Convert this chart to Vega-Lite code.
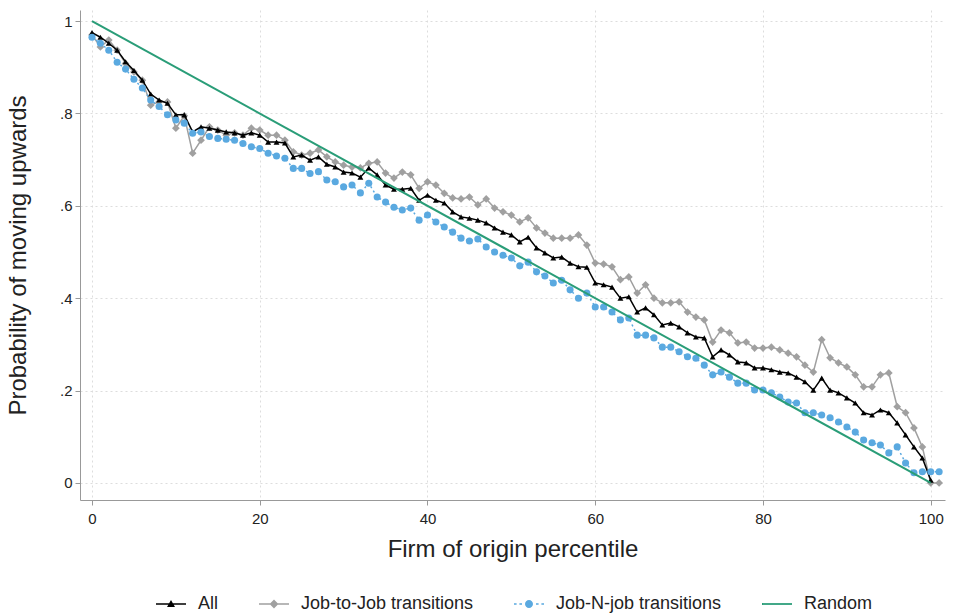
{
  "$schema": "https://vega.github.io/schema/vega-lite/v6.json",
  "autosize": {"type": "none"},
  "padding": {"left": 80, "top": 10, "right": 8, "bottom": 116},
  "width": 865,
  "height": 490,
  "background": "white",
  "config": {
    "view": {"stroke": null},
    "font": "Liberation Sans",
    "axis": {
      "domainColor": "#999999",
      "tickColor": "#999999",
      "tickSize": 5,
      "labelColor": "#222222",
      "labelFontSize": 15,
      "titleColor": "#222222",
      "titleFontSize": 24,
      "titleFontWeight": "normal",
      "gridColor": "#dddddd",
      "gridDash": [2, 3],
      "gridWidth": 1
    }
  },
  "datasets": {
    "d": [
      {"p":0,"v":0.975,"s":"All"},{"p":1,"v":0.965,"s":"All"},{"p":2,"v":0.952,"s":"All"},{"p":3,"v":0.937,"s":"All"},{"p":4,"v":0.912,"s":"All"},{"p":5,"v":0.893,"s":"All"},{"p":6,"v":0.872,"s":"All"},{"p":7,"v":0.842,"s":"All"},{"p":8,"v":0.829,"s":"All"},{"p":9,"v":0.822,"s":"All"},
      {"p":10,"v":0.797,"s":"All"},{"p":11,"v":0.797,"s":"All"},{"p":12,"v":0.760,"s":"All"},{"p":13,"v":0.771,"s":"All"},{"p":14,"v":0.768,"s":"All"},{"p":15,"v":0.764,"s":"All"},{"p":16,"v":0.760,"s":"All"},{"p":17,"v":0.758,"s":"All"},{"p":18,"v":0.753,"s":"All"},{"p":19,"v":0.758,"s":"All"},
      {"p":20,"v":0.753,"s":"All"},{"p":21,"v":0.738,"s":"All"},{"p":22,"v":0.738,"s":"All"},{"p":23,"v":0.736,"s":"All"},{"p":24,"v":0.706,"s":"All"},{"p":25,"v":0.710,"s":"All"},{"p":26,"v":0.699,"s":"All"},{"p":27,"v":0.706,"s":"All"},{"p":28,"v":0.690,"s":"All"},{"p":29,"v":0.684,"s":"All"},
      {"p":30,"v":0.673,"s":"All"},{"p":31,"v":0.671,"s":"All"},{"p":32,"v":0.662,"s":"All"},{"p":33,"v":0.682,"s":"All"},{"p":34,"v":0.667,"s":"All"},{"p":35,"v":0.645,"s":"All"},{"p":36,"v":0.636,"s":"All"},{"p":37,"v":0.636,"s":"All"},{"p":38,"v":0.638,"s":"All"},{"p":39,"v":0.612,"s":"All"},
      {"p":40,"v":0.623,"s":"All"},{"p":41,"v":0.612,"s":"All"},{"p":42,"v":0.606,"s":"All"},{"p":43,"v":0.587,"s":"All"},{"p":44,"v":0.576,"s":"All"},{"p":45,"v":0.573,"s":"All"},{"p":46,"v":0.569,"s":"All"},{"p":47,"v":0.563,"s":"All"},{"p":48,"v":0.552,"s":"All"},{"p":49,"v":0.543,"s":"All"},
      {"p":50,"v":0.537,"s":"All"},{"p":51,"v":0.522,"s":"All"},{"p":52,"v":0.532,"s":"All"},{"p":53,"v":0.509,"s":"All"},{"p":54,"v":0.498,"s":"All"},{"p":55,"v":0.487,"s":"All"},{"p":56,"v":0.489,"s":"All"},{"p":57,"v":0.476,"s":"All"},{"p":58,"v":0.468,"s":"All"},{"p":59,"v":0.467,"s":"All"},
      {"p":60,"v":0.433,"s":"All"},{"p":61,"v":0.429,"s":"All"},{"p":62,"v":0.424,"s":"All"},{"p":63,"v":0.400,"s":"All"},{"p":64,"v":0.403,"s":"All"},{"p":65,"v":0.370,"s":"All"},{"p":66,"v":0.379,"s":"All"},{"p":67,"v":0.364,"s":"All"},{"p":68,"v":0.342,"s":"All"},{"p":69,"v":0.346,"s":"All"},
      {"p":70,"v":0.338,"s":"All"},{"p":71,"v":0.325,"s":"All"},{"p":72,"v":0.316,"s":"All"},{"p":73,"v":0.314,"s":"All"},{"p":74,"v":0.273,"s":"All"},{"p":75,"v":0.288,"s":"All"},{"p":76,"v":0.277,"s":"All"},{"p":77,"v":0.262,"s":"All"},{"p":78,"v":0.260,"s":"All"},{"p":79,"v":0.249,"s":"All"},
      {"p":80,"v":0.249,"s":"All"},{"p":81,"v":0.245,"s":"All"},{"p":82,"v":0.240,"s":"All"},{"p":83,"v":0.238,"s":"All"},{"p":84,"v":0.229,"s":"All"},{"p":85,"v":0.219,"s":"All"},{"p":86,"v":0.201,"s":"All"},{"p":87,"v":0.227,"s":"All"},{"p":88,"v":0.201,"s":"All"},{"p":89,"v":0.195,"s":"All"},
      {"p":90,"v":0.184,"s":"All"},{"p":91,"v":0.173,"s":"All"},{"p":92,"v":0.152,"s":"All"},{"p":93,"v":0.147,"s":"All"},{"p":94,"v":0.158,"s":"All"},{"p":95,"v":0.152,"s":"All"},{"p":96,"v":0.130,"s":"All"},{"p":97,"v":0.104,"s":"All"},{"p":98,"v":0.078,"s":"All"},{"p":99,"v":0.054,"s":"All"},
      {"p":100,"v":0.006,"s":"All"},

      {"p":0,"v":0.970,"s":"Job-to-Job transitions"},{"p":1,"v":0.944,"s":"Job-to-Job transitions"},{"p":2,"v":0.959,"s":"Job-to-Job transitions"},{"p":3,"v":0.937,"s":"Job-to-Job transitions"},{"p":4,"v":0.908,"s":"Job-to-Job transitions"},{"p":5,"v":0.890,"s":"Job-to-Job transitions"},{"p":6,"v":0.872,"s":"Job-to-Job transitions"},{"p":7,"v":0.818,"s":"Job-to-Job transitions"},{"p":8,"v":0.825,"s":"Job-to-Job transitions"},{"p":9,"v":0.825,"s":"Job-to-Job transitions"},
      {"p":10,"v":0.768,"s":"Job-to-Job transitions"},{"p":11,"v":0.795,"s":"Job-to-Job transitions"},{"p":12,"v":0.714,"s":"Job-to-Job transitions"},{"p":13,"v":0.742,"s":"Job-to-Job transitions"},{"p":14,"v":0.771,"s":"Job-to-Job transitions"},{"p":15,"v":0.764,"s":"Job-to-Job transitions"},{"p":16,"v":0.753,"s":"Job-to-Job transitions"},{"p":17,"v":0.758,"s":"Job-to-Job transitions"},{"p":18,"v":0.753,"s":"Job-to-Job transitions"},{"p":19,"v":0.768,"s":"Job-to-Job transitions"},
      {"p":20,"v":0.764,"s":"Job-to-Job transitions"},{"p":21,"v":0.753,"s":"Job-to-Job transitions"},{"p":22,"v":0.753,"s":"Job-to-Job transitions"},{"p":23,"v":0.742,"s":"Job-to-Job transitions"},{"p":24,"v":0.717,"s":"Job-to-Job transitions"},{"p":25,"v":0.710,"s":"Job-to-Job transitions"},{"p":26,"v":0.714,"s":"Job-to-Job transitions"},{"p":27,"v":0.721,"s":"Job-to-Job transitions"},{"p":28,"v":0.706,"s":"Job-to-Job transitions"},{"p":29,"v":0.695,"s":"Job-to-Job transitions"},
      {"p":30,"v":0.688,"s":"Job-to-Job transitions"},{"p":31,"v":0.684,"s":"Job-to-Job transitions"},{"p":32,"v":0.682,"s":"Job-to-Job transitions"},{"p":33,"v":0.692,"s":"Job-to-Job transitions"},{"p":34,"v":0.695,"s":"Job-to-Job transitions"},{"p":35,"v":0.671,"s":"Job-to-Job transitions"},{"p":36,"v":0.660,"s":"Job-to-Job transitions"},{"p":37,"v":0.673,"s":"Job-to-Job transitions"},{"p":38,"v":0.667,"s":"Job-to-Job transitions"},{"p":39,"v":0.638,"s":"Job-to-Job transitions"},
      {"p":40,"v":0.652,"s":"Job-to-Job transitions"},{"p":41,"v":0.645,"s":"Job-to-Job transitions"},{"p":42,"v":0.627,"s":"Job-to-Job transitions"},{"p":43,"v":0.617,"s":"Job-to-Job transitions"},{"p":44,"v":0.615,"s":"Job-to-Job transitions"},{"p":45,"v":0.619,"s":"Job-to-Job transitions"},{"p":46,"v":0.602,"s":"Job-to-Job transitions"},{"p":47,"v":0.615,"s":"Job-to-Job transitions"},{"p":48,"v":0.595,"s":"Job-to-Job transitions"},{"p":49,"v":0.587,"s":"Job-to-Job transitions"},
      {"p":50,"v":0.580,"s":"Job-to-Job transitions"},{"p":51,"v":0.565,"s":"Job-to-Job transitions"},{"p":52,"v":0.574,"s":"Job-to-Job transitions"},{"p":53,"v":0.552,"s":"Job-to-Job transitions"},{"p":54,"v":0.541,"s":"Job-to-Job transitions"},{"p":55,"v":0.530,"s":"Job-to-Job transitions"},{"p":56,"v":0.530,"s":"Job-to-Job transitions"},{"p":57,"v":0.530,"s":"Job-to-Job transitions"},{"p":58,"v":0.537,"s":"Job-to-Job transitions"},{"p":59,"v":0.515,"s":"Job-to-Job transitions"},
      {"p":60,"v":0.476,"s":"Job-to-Job transitions"},{"p":61,"v":0.474,"s":"Job-to-Job transitions"},{"p":62,"v":0.468,"s":"Job-to-Job transitions"},{"p":63,"v":0.440,"s":"Job-to-Job transitions"},{"p":64,"v":0.446,"s":"Job-to-Job transitions"},{"p":65,"v":0.411,"s":"Job-to-Job transitions"},{"p":66,"v":0.429,"s":"Job-to-Job transitions"},{"p":67,"v":0.400,"s":"Job-to-Job transitions"},{"p":68,"v":0.390,"s":"Job-to-Job transitions"},{"p":69,"v":0.390,"s":"Job-to-Job transitions"},
      {"p":70,"v":0.392,"s":"Job-to-Job transitions"},{"p":71,"v":0.370,"s":"Job-to-Job transitions"},{"p":72,"v":0.359,"s":"Job-to-Job transitions"},{"p":73,"v":0.353,"s":"Job-to-Job transitions"},{"p":74,"v":0.305,"s":"Job-to-Job transitions"},{"p":75,"v":0.331,"s":"Job-to-Job transitions"},{"p":76,"v":0.325,"s":"Job-to-Job transitions"},{"p":77,"v":0.303,"s":"Job-to-Job transitions"},{"p":78,"v":0.305,"s":"Job-to-Job transitions"},{"p":79,"v":0.292,"s":"Job-to-Job transitions"},
      {"p":80,"v":0.292,"s":"Job-to-Job transitions"},{"p":81,"v":0.294,"s":"Job-to-Job transitions"},{"p":82,"v":0.288,"s":"Job-to-Job transitions"},{"p":83,"v":0.281,"s":"Job-to-Job transitions"},{"p":84,"v":0.273,"s":"Job-to-Job transitions"},{"p":85,"v":0.255,"s":"Job-to-Job transitions"},{"p":86,"v":0.240,"s":"Job-to-Job transitions"},{"p":87,"v":0.310,"s":"Job-to-Job transitions"},{"p":88,"v":0.271,"s":"Job-to-Job transitions"},{"p":89,"v":0.260,"s":"Job-to-Job transitions"},
      {"p":90,"v":0.251,"s":"Job-to-Job transitions"},{"p":91,"v":0.234,"s":"Job-to-Job transitions"},{"p":92,"v":0.208,"s":"Job-to-Job transitions"},{"p":93,"v":0.208,"s":"Job-to-Job transitions"},{"p":94,"v":0.234,"s":"Job-to-Job transitions"},{"p":95,"v":0.238,"s":"Job-to-Job transitions"},{"p":96,"v":0.165,"s":"Job-to-Job transitions"},{"p":97,"v":0.152,"s":"Job-to-Job transitions"},{"p":98,"v":0.119,"s":"Job-to-Job transitions"},{"p":99,"v":0.078,"s":"Job-to-Job transitions"},
      {"p":100,"v":0.0,"s":"Job-to-Job transitions"},{"p":101,"v":0.0,"s":"Job-to-Job transitions"},

      {"p":0,"v":0.965,"s":"Job-N-job transitions"},{"p":1,"v":0.952,"s":"Job-N-job transitions"},{"p":2,"v":0.937,"s":"Job-N-job transitions"},{"p":3,"v":0.911,"s":"Job-N-job transitions"},{"p":4,"v":0.896,"s":"Job-N-job transitions"},{"p":5,"v":0.874,"s":"Job-N-job transitions"},{"p":6,"v":0.855,"s":"Job-N-job transitions"},{"p":7,"v":0.829,"s":"Job-N-job transitions"},{"p":8,"v":0.815,"s":"Job-N-job transitions"},{"p":9,"v":0.797,"s":"Job-N-job transitions"},
      {"p":10,"v":0.786,"s":"Job-N-job transitions"},{"p":11,"v":0.779,"s":"Job-N-job transitions"},{"p":12,"v":0.757,"s":"Job-N-job transitions"},{"p":13,"v":0.760,"s":"Job-N-job transitions"},{"p":14,"v":0.750,"s":"Job-N-job transitions"},{"p":15,"v":0.746,"s":"Job-N-job transitions"},{"p":16,"v":0.744,"s":"Job-N-job transitions"},{"p":17,"v":0.742,"s":"Job-N-job transitions"},{"p":18,"v":0.735,"s":"Job-N-job transitions"},{"p":19,"v":0.728,"s":"Job-N-job transitions"},
      {"p":20,"v":0.724,"s":"Job-N-job transitions"},{"p":21,"v":0.714,"s":"Job-N-job transitions"},{"p":22,"v":0.708,"s":"Job-N-job transitions"},{"p":23,"v":0.703,"s":"Job-N-job transitions"},{"p":24,"v":0.681,"s":"Job-N-job transitions"},{"p":25,"v":0.681,"s":"Job-N-job transitions"},{"p":26,"v":0.670,"s":"Job-N-job transitions"},{"p":27,"v":0.674,"s":"Job-N-job transitions"},{"p":28,"v":0.656,"s":"Job-N-job transitions"},{"p":29,"v":0.652,"s":"Job-N-job transitions"},
      {"p":30,"v":0.641,"s":"Job-N-job transitions"},{"p":31,"v":0.645,"s":"Job-N-job transitions"},{"p":32,"v":0.628,"s":"Job-N-job transitions"},{"p":33,"v":0.649,"s":"Job-N-job transitions"},{"p":34,"v":0.619,"s":"Job-N-job transitions"},{"p":35,"v":0.608,"s":"Job-N-job transitions"},{"p":36,"v":0.597,"s":"Job-N-job transitions"},{"p":37,"v":0.591,"s":"Job-N-job transitions"},{"p":38,"v":0.595,"s":"Job-N-job transitions"},{"p":39,"v":0.569,"s":"Job-N-job transitions"},
      {"p":40,"v":0.580,"s":"Job-N-job transitions"},{"p":41,"v":0.565,"s":"Job-N-job transitions"},{"p":42,"v":0.554,"s":"Job-N-job transitions"},{"p":43,"v":0.543,"s":"Job-N-job transitions"},{"p":44,"v":0.530,"s":"Job-N-job transitions"},{"p":45,"v":0.524,"s":"Job-N-job transitions"},{"p":46,"v":0.528,"s":"Job-N-job transitions"},{"p":47,"v":0.511,"s":"Job-N-job transitions"},{"p":48,"v":0.500,"s":"Job-N-job transitions"},{"p":49,"v":0.493,"s":"Job-N-job transitions"},
      {"p":50,"v":0.487,"s":"Job-N-job transitions"},{"p":51,"v":0.470,"s":"Job-N-job transitions"},{"p":52,"v":0.478,"s":"Job-N-job transitions"},{"p":53,"v":0.457,"s":"Job-N-job transitions"},{"p":54,"v":0.448,"s":"Job-N-job transitions"},{"p":55,"v":0.433,"s":"Job-N-job transitions"},{"p":56,"v":0.439,"s":"Job-N-job transitions"},{"p":57,"v":0.418,"s":"Job-N-job transitions"},{"p":58,"v":0.400,"s":"Job-N-job transitions"},{"p":59,"v":0.411,"s":"Job-N-job transitions"},
      {"p":60,"v":0.381,"s":"Job-N-job transitions"},{"p":61,"v":0.381,"s":"Job-N-job transitions"},{"p":62,"v":0.370,"s":"Job-N-job transitions"},{"p":63,"v":0.353,"s":"Job-N-job transitions"},{"p":64,"v":0.357,"s":"Job-N-job transitions"},{"p":65,"v":0.320,"s":"Job-N-job transitions"},{"p":66,"v":0.320,"s":"Job-N-job transitions"},{"p":67,"v":0.314,"s":"Job-N-job transitions"},{"p":68,"v":0.294,"s":"Job-N-job transitions"},{"p":69,"v":0.294,"s":"Job-N-job transitions"},
      {"p":70,"v":0.284,"s":"Job-N-job transitions"},{"p":71,"v":0.273,"s":"Job-N-job transitions"},{"p":72,"v":0.270,"s":"Job-N-job transitions"},{"p":73,"v":0.255,"s":"Job-N-job transitions"},{"p":74,"v":0.234,"s":"Job-N-job transitions"},{"p":75,"v":0.240,"s":"Job-N-job transitions"},{"p":76,"v":0.229,"s":"Job-N-job transitions"},{"p":77,"v":0.216,"s":"Job-N-job transitions"},{"p":78,"v":0.216,"s":"Job-N-job transitions"},{"p":79,"v":0.201,"s":"Job-N-job transitions"},
      {"p":80,"v":0.201,"s":"Job-N-job transitions"},{"p":81,"v":0.195,"s":"Job-N-job transitions"},{"p":82,"v":0.186,"s":"Job-N-job transitions"},{"p":83,"v":0.175,"s":"Job-N-job transitions"},{"p":84,"v":0.173,"s":"Job-N-job transitions"},{"p":85,"v":0.152,"s":"Job-N-job transitions"},{"p":86,"v":0.152,"s":"Job-N-job transitions"},{"p":87,"v":0.147,"s":"Job-N-job transitions"},{"p":88,"v":0.141,"s":"Job-N-job transitions"},{"p":89,"v":0.132,"s":"Job-N-job transitions"},
      {"p":90,"v":0.121,"s":"Job-N-job transitions"},{"p":91,"v":0.110,"s":"Job-N-job transitions"},{"p":92,"v":0.093,"s":"Job-N-job transitions"},{"p":93,"v":0.087,"s":"Job-N-job transitions"},{"p":94,"v":0.082,"s":"Job-N-job transitions"},{"p":95,"v":0.065,"s":"Job-N-job transitions"},{"p":96,"v":0.078,"s":"Job-N-job transitions"},{"p":97,"v":0.043,"s":"Job-N-job transitions"},{"p":98,"v":0.022,"s":"Job-N-job transitions"},{"p":99,"v":0.024,"s":"Job-N-job transitions"},
      {"p":100,"v":0.024,"s":"Job-N-job transitions"},{"p":101,"v":0.024,"s":"Job-N-job transitions"},

      {"p":0,"v":1,"s":"Random"},{"p":100,"v":0,"s":"Random"}
    ]
  },
  "data": {"name": "d"},
  "encoding": {
    "x": {
      "field": "p", "type": "quantitative",
      "scale": {"domain": [-1.43, 101.7], "nice": false, "zero": false},
      "axis": {"values": [0, 20, 40, 60, 80, 100], "title": "Firm of origin percentile", "labelPadding": 6, "titlePadding": 11, "grid": true}
    },
    "y": {
      "field": "v", "type": "quantitative",
      "scale": {"domain": [-0.037, 1.024], "nice": false, "zero": false},
      "axis": {
        "values": [0, 0.2, 0.4, 0.6, 0.8, 1],
        "title": "Probability of moving upwards",
        "labelExpr": "datum.value == 0 ? '0' : datum.value == 1 ? '1' : '.' + format(datum.value * 10, 'd')",
        "labelPadding": 3,
        "titlePadding": 29,
        "grid": true
      }
    }
  },
  "layer": [
    {
      "transform": [{"filter": "datum.s == 'Job-to-Job transitions'"}],
      "mark": {"type": "line", "color": "#a0a0a0", "strokeWidth": 1.5,
               "point": {"shape": "diamond", "size": 60, "filled": true, "color": "#a0a0a0"}}
    },
    {
      "transform": [{"filter": "datum.s == 'All'"}],
      "mark": {"type": "line", "color": "#000000", "strokeWidth": 1.5,
               "point": {"shape": "triangle-up", "size": 35, "filled": true, "color": "#000000"}}
    },
    {
      "transform": [{"filter": "datum.s == 'Job-N-job transitions'"}],
      "mark": {"type": "line", "color": "#5aa9e0", "strokeWidth": 1.5, "strokeDash": [2, 3],
               "point": {"shape": "circle", "size": 50, "filled": true, "color": "#5aa9e0", "opacity": 1}}
    },
    {
      "transform": [{"filter": "datum.s == 'Random'"}],
      "mark": {"type": "line", "color": "#2a9d78", "strokeWidth": 2}
    },
    {
      "transform": [{"filter": "datum.p == 0"}],
      "mark": {"type": "point", "filled": true, "opacity": 0},
      "encoding": {
        "color": {
          "field": "s", "type": "nominal",
          "scale": {"domain": ["All", "Job-to-Job transitions", "Job-N-job transitions", "Random"],
                    "range": ["#000000", "#a0a0a0", "#5aa9e0", "#2a9d78"]},
          "legend": {
            "title": null, "orient": "none", "direction": "horizontal",
            "legendX": 82, "legendY": 585,
            "symbolSize": 64, "symbolStrokeWidth": 0, "symbolOpacity": 1,
            "labelFontSize": 18, "labelColor": "#222222", "labelOffset": 18, "labelLimit": 400,
            "columnPadding": 40
          }
        },
        "shape": {
          "field": "s", "type": "nominal",
          "scale": {"domain": ["All", "Job-to-Job transitions", "Job-N-job transitions", "Random"],
                    "range": [
                      "M-3.75,-0.17H3.75V0.17H-3.75Z M0,-1L1,0.75H-1Z",
                      "M-3.75,-0.17H3.75V0.17H-3.75Z M0,-1.1L1.1,0L0,1.1L-1.1,0Z",
                      "M-3.75,-0.17H-3.1V0.17H-3.75Z M-2.4,-0.17H-1.75V0.17H-2.4Z M1.75,-0.17H2.4V0.17H1.75Z M3.1,-0.17H3.75V0.17H3.1Z M-1,0A1,1 0 1,0 1,0A1,1 0 1,0 -1,0Z",
                      "M-3.75,-0.22H3.75V0.22H-3.75Z"
                    ]},
          "legend": {
            "title": null, "orient": "none", "direction": "horizontal",
            "legendX": 82, "legendY": 585,
            "symbolSize": 64, "symbolStrokeWidth": 0, "symbolOpacity": 1,
            "labelFontSize": 18, "labelColor": "#222222", "labelOffset": 18, "labelLimit": 400,
            "columnPadding": 40
          }
        }
      }
    }
  ]
}
